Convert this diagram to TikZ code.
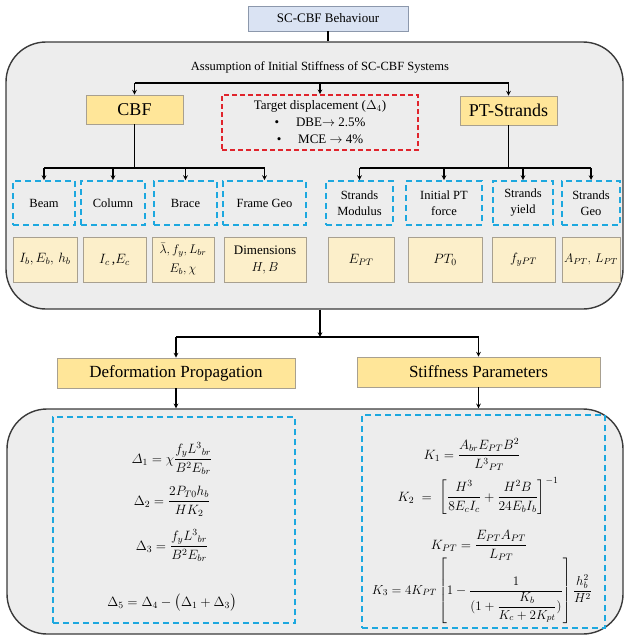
\RequirePackage{fix-cm}
\documentclass[tikz,border=0pt]{standalone}
\usepackage{amsmath}
\usepackage[no-math]{fontspec}
\setmainfont{Liberation Serif}
\definecolor{panelfill}{HTML}{EDEDED}
\definecolor{panelline}{HTML}{3A3A3A}
\definecolor{topfill}{HTML}{DAE3F3}
\definecolor{topline}{HTML}{8C98AC}
\definecolor{headfill}{HTML}{FFE699}
\definecolor{parfill}{HTML}{FCEFCA}
\definecolor{boxline}{HTML}{A8A090}
\definecolor{dashblue}{HTML}{1DA8DF}
\definecolor{dashred}{HTML}{E0242C}
\newcommand{\fs}[2]{\fontsize{#1}{#2}\selectfont}
\begin{document}
\begin{tikzpicture}[x=1pt, y=-1pt, >=stealth,
  sz/.style 2 args={minimum width=#1pt, minimum height=#2pt},
  panel/.style={draw=panelline, fill=panelfill, line width=1.4pt, rounded corners=40pt, inner sep=0pt},
  topbox/.style={draw=topline, fill=topfill, line width=0.8pt, inner sep=0pt, font=\fs{13}{15}},
  headbox/.style={draw=boxline, fill=headfill, line width=0.8pt, inner sep=0pt},
  parbox/.style={draw=boxline, fill=parfill, line width=0.8pt, inner sep=0pt, align=center, font=\fs{13.5}{18}},
  bluebox/.style={draw=dashblue, dash pattern=on 6pt off 4pt, line width=2pt, inner sep=0pt, align=center, font=\fs{12.5}{16}},
  redbox/.style={draw=dashred, dash pattern=on 5pt off 3pt, line width=1.6pt, inner sep=0pt, align=center, font=\fs{13}{17}},
  formula/.style={anchor=base, inner sep=0pt, font=\fs{13.5}{16}},
  link/.style={line width=1.1pt}]
\useasboundingbox (0,0) rectangle (624,641);
\node[panel, sz={617}{267}] (big1) at (314.5,175.5) {};
\node[panel, sz={616}{225}] (big2) at (315,521.5) {};
\node[topbox, sz={160}{25}] (top) at (328,18.5) {SC-CBF Behaviour};
\node[font=\fs{12.5}{15}] (title) at (320,67) {Assumption of Initial Stiffness of SC-CBF Systems};
\node[headbox, sz={97}{29}, font=\fs{18}{20}] (cbf) at (134.5,109.5) {CBF};
\node[redbox, sz={196}{55}] (tgt) at (320,122.5) {Target displacement ($\Delta_4$)\\
  \textbullet\hspace{1.3em}DBE$\rightarrow$ 2.5\%\\ \textbullet\hspace{1.3em}MCE $\rightarrow$ 4\%};
\node[headbox, sz={97}{29}, font=\fs{18}{20}] (pts) at (508.5,110.5) {PT-Strands};
\node[bluebox, sz={62}{44}] (beam) at (44,203) {Beam};
\node[bluebox, sz={64}{44}] (column) at (113,203) {Column};
\node[bluebox, sz={63}{44}] (brace) at (185.5,203) {Brace};
\node[bluebox, sz={83}{44}] (fgeo) at (264.5,203) {Frame Geo};
\node[bluebox, sz={67}{44}] (smod) at (359.5,203) {Strands\\Modulus};
\node[bluebox, sz={76}{44}] (ipt) at (444,203) {Initial PT\\force};
\node[bluebox, sz={60}{44}] (syield) at (523,203) {Strands\\yield};
\node[bluebox, sz={58}{44}] (sgeo) at (591,203) {Strands\\Geo};
\node[parbox, sz={64}{45}] (pbeam) at (45,259.5) {$I_b,E_b,\,h_b$};
\node[parbox, sz={63}{45}] (pcol) at (114.5,259.5) {$I_c$\,,$E_c$};
\node[parbox, sz={62}{45}, font=\fs{12.5}{19}] (pbrace) at (183,259.5) {$\bar{\lambda},f_y,L_{br}$\\$E_b,\chi$};
\node[parbox, sz={82}{45}, font=\fs{13}{17}] (pgeo) at (265,259.5) {Dimensions\\$H,B$};
\node[parbox, sz={66}{45}] (pmod) at (361,259.5) {$E_{PT}$};
\node[parbox, sz={74}{45}] (pforce) at (445,259.5) {$PT_0$};
\node[parbox, sz={63}{45}] (pyield) at (523.5,259.5) {$f_{yPT}$};
\node[parbox, sz={58}{45}, font=\fs{12.5}{16}] (pgeo2) at (591,259.5) {$A_{PT},\,L_{PT}$};
\node[headbox, sz={238}{30}, font=\fs{17}{19}] (dp) at (176,373) {Deformation Propagation};
\node[headbox, sz={243}{30}, font=\fs{17}{19}] (sp) at (478.5,372) {Stiffness Parameters};
\node[bluebox, sz={242}{206}] (eqleft) at (174,520) {};
\node[bluebox, sz={243}{213}] (eqright) at (483.5,521.5) {};
\node[formula] (d1) at (172,463) {$\displaystyle \varDelta_1=\chi\frac{f_y{L^3}_{br}}{B^2E_{br}}$};
\node[formula] (d2) at (172,505) {$\displaystyle \Delta_2=\frac{2P_{T0}h_b}{HK_2}$};
\node[formula] (d3) at (172,550) {$\displaystyle \Delta_3=\frac{f_y{L^3}_{br}}{B^2E_{br}}$};
\node[formula] (d5) at (172,606) {$\Delta_5=\Delta_4-\big(\Delta_1+\Delta_3\big)$};
\node[formula] (k1) at (472,459) {$\displaystyle K_1=\frac{A_{br}E_{PT}B^2}{{L^3}_{PT}}$};
\node[formula] (k2) at (478,501) {$\displaystyle K_2\;=\;\left[\frac{H^3}{8E_cI_c}+\frac{H^2B}{24E_bI_b}\right]^{-1}$};
\node[formula] (kpt) at (479,549) {$\displaystyle K_{PT}=\frac{E_{PT}A_{PT}}{L_{PT}}$};
\node[formula, font=\fs{13}{15}] (k3) at (482,594) {$\displaystyle K_3=4K_{PT}\left[1-\frac{1}{(1+\dfrac{K_b}{K_c+2K_{pt}})}\right]\frac{h_b^2}{H^2}$};
\coordinate (bar1) at (0,83);
\coordinate (bar2) at (0,168);
\coordinate (split) at (320,337);
\draw[link] (top.south) -- (top.south |- big1.north);
\draw[link] (bar1 -| cbf.north) -- (bar1 -| pts.north);
\foreach \n in {cbf,tgt,pts} \draw[link,->] (bar1 -| \n.north) -- (\n.north);
\draw[link] (cbf.south) -- (cbf.south |- bar2);
\draw[link] (pts.south) -- (pts.south |- bar2);
\draw[link] (bar2 -| beam.north) -- (bar2 -| fgeo.north);
\draw[link] (bar2 -| smod.north) -- (bar2 -| sgeo.north);
\foreach \n in {beam,column,brace,fgeo,smod,ipt,syield,sgeo} \draw[link,->] (bar2 -| \n.north) -- (\n.north);
\draw[link,->] (big1.south -| split) -- (split);
\draw[link] (split -| dp.north) -- (split -| sp.north);
\foreach \n in {dp,sp} {
  \draw[link,->] (split -| \n.north) -- (\n.north);
  \draw[link,->] (\n.south) -- (\n.south |- big2.north);
}
\end{tikzpicture}
\end{document}
